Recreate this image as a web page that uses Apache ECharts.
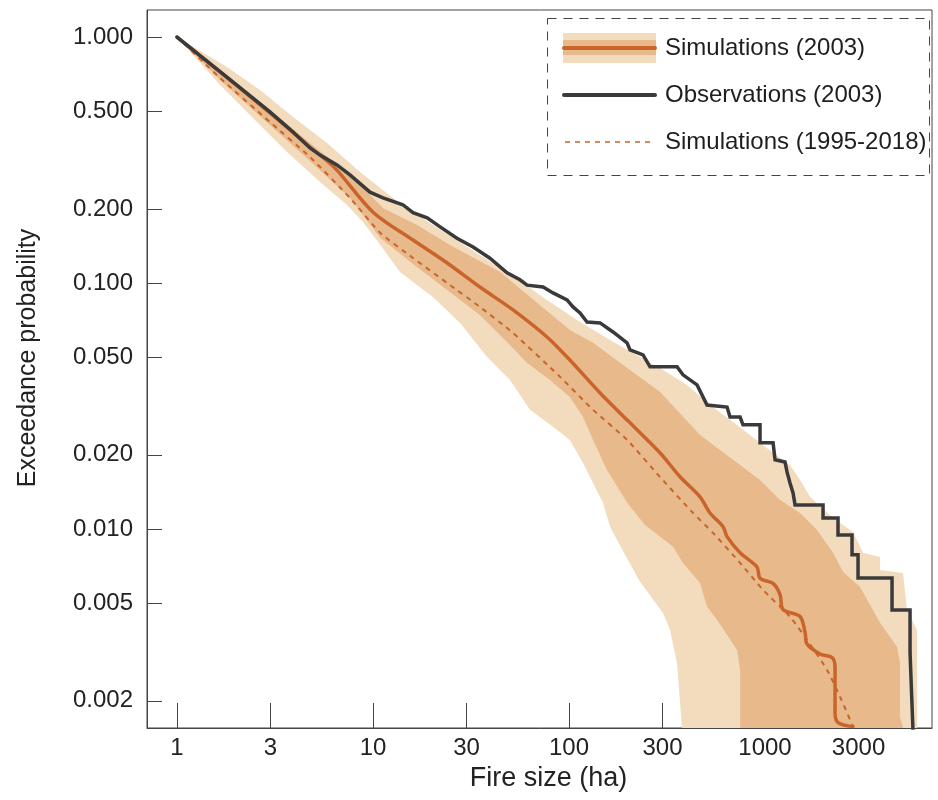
<!DOCTYPE html>
<html>
<head>
<meta charset="utf-8">
<script src="https://cdn.jsdelivr.net/npm/echarts@6/dist/echarts.min.js"></script>
<style>html,body{margin:0;padding:0;background:#fff}#c{width:938px;height:800px}</style>
</head>
<body>
<div id="c"></div>
<script>
// ---- axis ticks ----
const xTicks = [1, 3, 10, 30, 100, 300, 1000, 3000];
const yTicks = [1, 0.5, 0.2, 0.1, 0.05, 0.02, 0.01, 0.005, 0.002];
const xRange = [0.703, 7110];
const yRange = [0.00155, 1.288];

// ---- median of simulations (2003) ----
const simMedianSize = [1, 1.66, 2.98, 4.77, 6.4, 10, 16, 23.9, 35.1, 51.8, 77.2, 101, 144, 198, 291, 368, 466, 524, 611, 640, 746, 910, 943, 1099, 1193, 1235, 1509, 1600, 1638, 1908, 2197, 2276, 2276, 2357, 2812];
const simMedianProb = [1, 0.721, 0.491, 0.357, 0.293, 0.194, 0.1495, 0.1206, 0.0963, 0.0777, 0.0603, 0.0486, 0.0357, 0.0277, 0.0204, 0.0163, 0.0135, 0.0116, 0.0102, 0.0093, 0.0080, 0.0070, 0.0063, 0.0060, 0.0054, 0.0047, 0.0044, 0.0038, 0.0034, 0.0031, 0.0030, 0.00275, 0.00179, 0.00163, 0.00157];

// ---- simulations 1995-2018 ----
const allSimSize = [1, 1.66, 2.98, 4.77, 7.63, 10.9, 16, 23.9, 35.1, 51.8, 90, 132.6, 198, 291, 429, 543, 746, 977, 1341, 1638, 2072, 2414, 2812];
const allSimProb = [1, 0.681, 0.451, 0.325, 0.2216, 0.1597, 0.1264, 0.1, 0.0799, 0.0626, 0.0415, 0.0305, 0.0230, 0.01627, 0.01161, 0.00963, 0.00727, 0.00565, 0.00439, 0.00354, 0.00267, 0.002076, 0.00157];

// ---- observations (2003) ----
const obsSize = [1, 1.36, 2.02, 2.98, 3.91, 4.77, 5.37, 6.55, 7.63, 9.65, 11.25, 14.2, 16.0, 18.9, 22.0, 26.8, 32.4, 39.5, 48.3, 56.2, 61.1, 73.7, 82.9, 97.7, 104.8, 113.8, 123.6, 144, 167.7, 197.7, 204.8, 238.6, 259, 355.6, 381.5, 450, 506, 640, 663, 746, 772, 943, 943, 1099, 1125, 1265, 1295, 1341, 1390, 1423, 1977, 1977, 2357, 2357, 2779, 2779, 2982, 2982, 4446, 4446, 5494, 5494, 5623, 5690];
const obsProb = [1, 0.821, 0.638, 0.496, 0.411, 0.354, 0.331, 0.302, 0.275, 0.234, 0.222, 0.208, 0.193, 0.184, 0.169, 0.152, 0.140, 0.126, 0.110, 0.103, 0.098, 0.0963, 0.0911, 0.0853, 0.0799, 0.0755, 0.0694, 0.0688, 0.0632, 0.0571, 0.0534, 0.0510, 0.0456, 0.0456, 0.0423, 0.0385, 0.0319, 0.0313, 0.0285, 0.0285, 0.0265, 0.0265, 0.0224, 0.0224, 0.0191, 0.0187, 0.01705, 0.01538, 0.0140, 0.01252, 0.01252, 0.01108, 0.01108, 0.00945, 0.00945, 0.00784, 0.00784, 0.00632, 0.00632, 0.00468, 0.00468, 0.00313, 0.00313, 0.0015];

// ---- outer (light) envelope ----
const outerHiSize = [1, 1.80, 2.65, 3.91, 5.83, 8.59, 12.65, 20.2, 35.1, 51.8, 77.2, 113.8, 167.7, 291, 400, 524, 687, 1024, 1341, 1509, 1696, 2223, 2812, 3162, 3862, 3862, 5059, 5302, 5964, 5964];
const outerHiProb = [1, 0.755, 0.609, 0.473, 0.371, 0.2826, 0.2216, 0.172, 0.130, 0.1068, 0.0853, 0.0694, 0.0576, 0.0451, 0.0385, 0.0319, 0.0272, 0.0213, 0.0182, 0.0158, 0.0135, 0.01108, 0.00972, 0.00799, 0.00769, 0.00681, 0.00662, 0.00468, 0.00388, 0.00155];
const outerLoSize = [1, 1.66, 2.44, 3.64, 5.37, 7.37, 8.89, 10.9, 13.73, 20.2, 27.8, 38.2, 50.0, 63.2, 82.9, 101, 117.9, 132.6, 149.1, 161.9, 193.1, 230.2, 301.7, 327.6, 355.6, 377];
const outerLoProb = [1, 0.638, 0.469, 0.341, 0.2574, 0.2076, 0.177, 0.1427, 0.1108, 0.0877, 0.0688, 0.0500, 0.0403, 0.0305, 0.0260, 0.0230, 0.01855, 0.01538, 0.01276, 0.01019, 0.00784, 0.00609, 0.00455, 0.00388, 0.00285, 0.00155];

// ---- inner (dark) envelope ----
const innerHiSize = [1, 1.66, 2.98, 4.77, 7.63, 11.25, 16.8, 24.7, 44.5, 77.2, 101, 132.6, 198, 291, 466, 746, 943, 1193, 1509, 1842, 2223, 2500, 3053, 3862, 4716, 4885, 4885, 5059];
const innerHiProb = [1, 0.734, 0.505, 0.371, 0.2748, 0.2017, 0.172, 0.1427, 0.1108, 0.0769, 0.0644, 0.0571, 0.0451, 0.0361, 0.0241, 0.0182, 0.0158, 0.0131, 0.01161, 0.0099, 0.00799, 0.00669, 0.00581, 0.00415, 0.00331, 0.00285, 0.00172, 0.00155];
const innerLoSize = [1, 1.66, 2.98, 4.77, 7.63, 10.9, 16, 23.9, 35.1, 50.0, 61.1, 80.0, 101, 117.9, 132.6, 156.2, 198, 244.2, 339.4, 381.5, 466, 506, 569, 720, 746, 746];
const innerLoProb = [1, 0.669, 0.439, 0.313, 0.2216, 0.1524, 0.1195, 0.0937, 0.0741, 0.0560, 0.0473, 0.0403, 0.0344, 0.0285, 0.0230, 0.01737, 0.01276, 0.01038, 0.00845, 0.00727, 0.00603, 0.00482, 0.00427, 0.00322, 0.00267, 0.00155];

const C_LIGHT = '#f3dcbe';
const C_DARK = '#e8b98b';
const C_ORANGE = '#c9642a';
const C_BLACK = '#3a3a3a';
const FONT = '"Liberation Sans", Arial, Helvetica, sans-serif';

function zip(xs, ys) { return xs.map((x, i) => [x, ys[i]]); }

function band(name, hiX, hiY, loX, loY, color, z) {
  return {
    name: name, type: 'custom', xAxisIndex: 0, yAxisIndex: 0, clip: true, silent: true, z: z,
    data: [[hiX[0], hiY[0]]],
    renderItem: function (params, api) {
      const pts = [];
      for (let i = 0; i < hiX.length; i++) pts.push(api.coord([hiX[i], hiY[i]]));
      for (let i = loX.length - 1; i >= 0; i--) pts.push(api.coord([loX[i], loY[i]]));
      return { type: 'polygon', shape: { points: pts }, style: { fill: color } };
    }
  };
}

const chart = echarts.init(document.getElementById('c'), null, { renderer: 'canvas' });
const axisCol = '#444';
chart.setOption({
  animation: false,
  backgroundColor: '#fff',
  grid: { left: 147, right: 6, top: 10, bottom: 72, show: true, borderColor: axisCol, borderWidth: 1 },
  xAxis: [
    { type: 'log', logBase: 10, min: xRange[0], max: xRange[1], show: false, position: 'top' },
    {
      type: 'value', position: 'bottom',
      min: Math.log10(xRange[0]), max: Math.log10(xRange[1]),
      axisLine: { show: true, onZero: false, lineStyle: { color: axisCol, width: 1 } },
      axisTick: { show: true, inside: true, length: 25, lineStyle: { color: axisCol, width: 1 }, customValues: xTicks.map(v => Math.log10(v)) },
      axisLabel: { customValues: xTicks.map(v => Math.log10(v)), margin: 8, fontSize: 24, color: '#222', fontFamily: FONT,
        formatter: v => String(Math.round(Math.pow(10, v))) },
      splitLine: { show: false },
      name: 'Fire size (ha)', nameLocation: 'middle', nameGap: 33,
      nameTextStyle: { fontSize: 27, color: '#222', fontFamily: FONT, padding: [0, 0, 0, 18] }
    }
  ],
  yAxis: [
    { type: 'log', logBase: 10, min: yRange[0], max: yRange[1], show: false, position: 'right' },
    {
      type: 'value', position: 'left',
      min: Math.log10(yRange[0]), max: Math.log10(yRange[1]),
      axisLine: { show: true, onZero: false, lineStyle: { color: axisCol, width: 1 } },
      axisTick: { show: true, inside: true, length: 15, lineStyle: { color: axisCol, width: 1 }, customValues: yTicks.map(v => Math.log10(v)) },
      axisLabel: { customValues: yTicks.map(v => Math.log10(v)), margin: 14, fontSize: 24, color: '#222', fontFamily: FONT,
        formatter: v => Math.pow(10, v).toFixed(3) },
      splitLine: { show: false },
      name: 'Exceedance probability', nameLocation: 'middle', nameGap: 106,
      nameTextStyle: { fontSize: 25, color: '#222', fontFamily: FONT, padding: [0, 0, 0, 22] }
    }
  ],
  series: [
    band('Simulations (2003) 90%', outerHiSize, outerHiProb, outerLoSize, outerLoProb, C_LIGHT, 1),
    band('Simulations (2003) 50%', innerHiSize, innerHiProb, innerLoSize, innerLoProb, C_DARK, 2),
    {
      name: 'Simulations (1995-2018)', type: 'line', xAxisIndex: 0, yAxisIndex: 0, z: 3,
      data: zip(allSimSize, allSimProb), showSymbol: false, smooth: 0.2,
      lineStyle: { color: C_ORANGE, width: 2, type: [5, 5] }
    },
    {
      name: 'Simulations (2003)', type: 'line', xAxisIndex: 0, yAxisIndex: 0, z: 4,
      data: zip(simMedianSize, simMedianProb), showSymbol: false, smooth: 0.3,
      lineStyle: { color: C_ORANGE, width: 3.5, cap: 'round' }
    },
    {
      name: 'Observations (2003)', type: 'line', xAxisIndex: 0, yAxisIndex: 0, z: 5,
      data: zip(obsSize, obsProb), showSymbol: false,
      lineStyle: { color: C_BLACK, width: 3.5, cap: 'round', join: 'miter' }
    }
  ],
  graphic: [
    { type: 'rect', z: 10, shape: { x: 547.5, y: 18.5, width: 382, height: 157 }, style: { fill: '#fff', stroke: '#444', lineWidth: 1, lineDash: [9, 7] } },
    { type: 'rect', z: 11, shape: { x: 563, y: 33, width: 93, height: 30 }, style: { fill: C_LIGHT } },
    { type: 'rect', z: 11, shape: { x: 563, y: 40, width: 93, height: 15 }, style: { fill: C_DARK } },
    { type: 'line', z: 12, shape: { x1: 564, y1: 48, x2: 655, y2: 48 }, style: { stroke: C_ORANGE, lineWidth: 4, lineCap: 'round' } },
    { type: 'line', z: 12, shape: { x1: 564, y1: 95, x2: 655, y2: 95 }, style: { stroke: C_BLACK, lineWidth: 4, lineCap: 'round' } },
    { type: 'line', z: 12, shape: { x1: 565, y1: 142, x2: 655, y2: 142 }, style: { stroke: C_ORANGE, lineWidth: 1.5, lineDash: [5, 5] } },
    { type: 'text', z: 12, x: 665, y: 48, style: { text: 'Simulations (2003)', fontSize: 24, fontFamily: FONT, fill: '#1e1e1e', verticalAlign: 'middle' } },
    { type: 'text', z: 12, x: 665, y: 95, style: { text: 'Observations (2003)', fontSize: 24, fontFamily: FONT, fill: '#1e1e1e', verticalAlign: 'middle' } },
    { type: 'text', z: 12, x: 665, y: 142, style: { text: 'Simulations (1995-2018)', fontSize: 24, fontFamily: FONT, fill: '#1e1e1e', verticalAlign: 'middle' } }
  ]
});
</script>
</body>
</html>
